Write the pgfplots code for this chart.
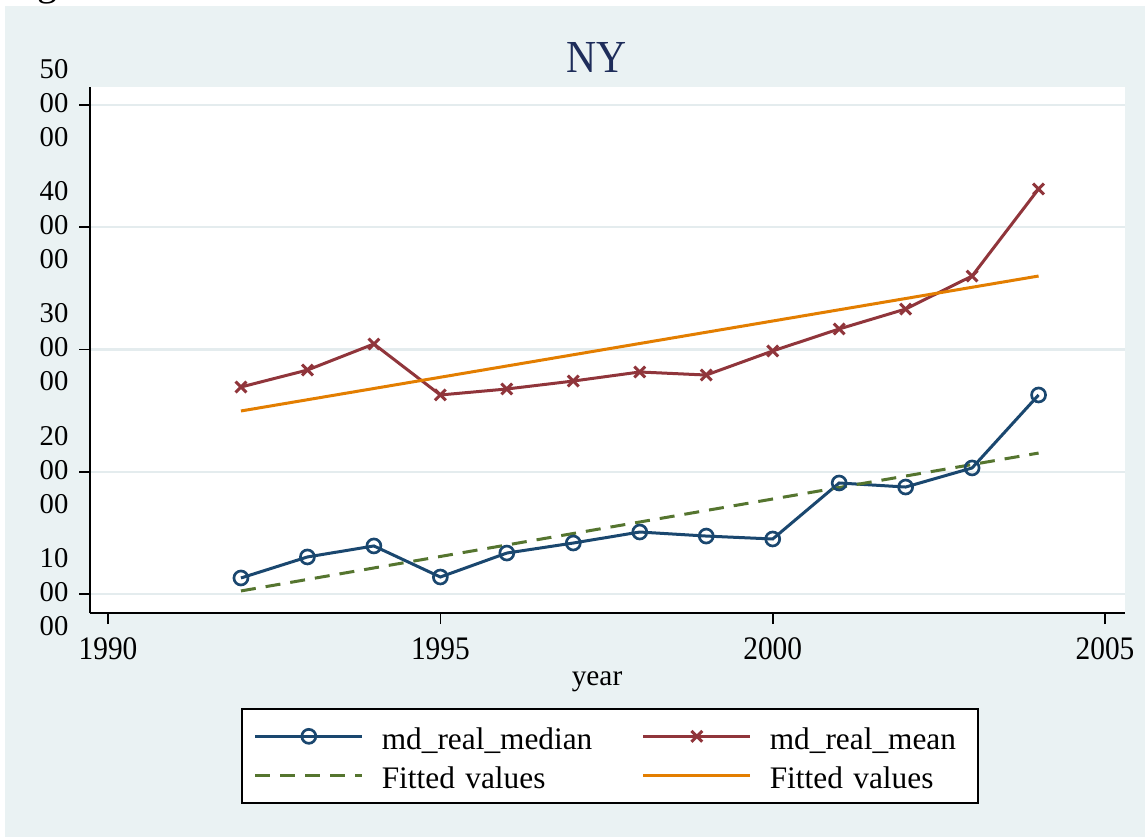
\documentclass[border=0pt]{standalone}
\usepackage{pgfplots}
\pgfplotsset{compat=1.18}
\usepackage{pgfplotstable}
\usepackage{fontspec}
\setmainfont{Liberation Serif}
\definecolor{panel}{HTML}{EAF2F3}
\definecolor{gridc}{HTML}{E4ECEE}
\definecolor{snavy}{RGB}{26,71,111}
\definecolor{smaroon}{RGB}{144,53,59}
\definecolor{sforest}{RGB}{85,117,47}
\definecolor{sorange}{RGB}{227,126,0}
\definecolor{titlec}{RGB}{30,45,90}

\pgfplotstableread{
year median mean
1992 113100 269300
1993 130300 283200
1994 139300 304500
1995 113900 262800
1996 133500 267700
1997 141700 274200
1998 150700 281600
1999 147400 279100
2000 145000 298800
2001 190800 316800
2002 187500 333100
2003 203100 360100
2004 262800 431300
}\datatable

\pgfplotstableread{
year fit
1992 102500
2004 215300
}\fitmedian

\pgfplotstableread{
year fit
1992 249700
2004 360100
}\fitmean

\begin{document}
\begin{tikzpicture}
\fill[white] (0,0) rectangle (343.5pt,-251.4pt);
\fill[panel] (1.5pt,-1.8pt) rectangle (343.5pt,-251.1pt);
\begin{scope}
\clip (0,0) rectangle (343.5pt,-1.8pt);
\node[anchor=base west, inner sep=0pt, font=\fontsize{12}{14}\selectfont] at (0.9pt,1.2pt) {Figure};
\end{scope}
\begin{axis}[
 at={(27pt,-183.9pt)}, anchor=south west,
 scale only axis, width=310.5pt, height=157.8pt,
 xmin=1989.729, xmax=2005.30, ymin=84460, ymax=514720,
 axis x line*=bottom, axis y line*=left,
 axis line style={line width=0.6pt, -},
 axis background/.style={fill=white},
 xtick={1990,1995,2000,2005},
 xticklabels={\scalebox{1}[1.12]{1990},\scalebox{1}[1.12]{1995},\scalebox{1}[1.12]{2000},\scalebox{1}[1.12]{2005}},
 ytick={100000,200000,300000,400000,500000},
 yticklabels={{10\\00\\00},{20\\00\\00},{30\\00\\00},{40\\00\\00},{50\\00\\00}},
 scaled y ticks=false,
 tick align=outside,
 major tick length=3.3pt,
 tick style={black, line width=0.5pt},
 ymajorgrids,
 grid style={gridc, line width=0.7pt},
 xticklabel style={font=\fontsize{8.8}{10}\selectfont, anchor=base, yshift=-10.5pt},
 yticklabel style={font=\fontsize{8.6}{10.2}\selectfont, align=right, anchor=east, inner sep=0pt, xshift=-3pt, yshift=0.6pt},
 title={\scalebox{1}[1.1]{NY}},
 title style={font=\fontsize{12.5}{14}\selectfont, text=titlec, at={(0.5,1)}, anchor=base, yshift=-1.8pt, xshift=-3.15pt},
 xlabel={year},
 xlabel style={font=\fontsize{8.8}{10}\selectfont, at={(axis description cs:0.4899,0)}, anchor=base, yshift=-21.6pt},
 legend columns=2,
 legend image code/.code={\draw[mark repeat=2,mark phase=2] plot coordinates {(0pt,0pt) (16.05pt,0pt) (32.1pt,0pt)};},
 legend cell align=left,
 legend style={at={(0.14589,-0.18061)}, anchor=north west, draw=black, line width=0.5pt, fill=white,
   inner xsep=3.6pt, inner ysep=2.4pt, font=\fontsize{9.4}{11}\selectfont,
   /tikz/every odd column/.append style={column sep=5.4pt},
   /tikz/every even column/.append style={column sep=19.2pt},
   nodes={text height=9.9pt, text depth=1.8pt, inner sep=0pt, text width=58.8pt, align=left}},
]
\addplot[snavy, line width=0.9pt, mark=o, mark size=2.1pt, mark options={line width=0.8pt, fill=white, solid}] table[x=year, y=median] {\datatable};
\addlegendentry{md\_real\_median}
\addplot[smaroon, line width=0.9pt, mark=x, mark size=2.3pt, mark options={line width=0.9pt}] table[x=year, y=mean] {\datatable};
\addlegendentry{md\_real\_mean}
\addplot[sforest, line width=0.9pt, dash pattern=on 4.5pt off 3pt] table[x=year, y=fit] {\fitmedian};
\addlegendentry{Fitted values}
\addplot[sorange, line width=0.9pt] table[x=year, y=fit] {\fitmean};
\addlegendentry{Fitted values}
\end{axis}
\pgfresetboundingbox
\useasboundingbox (0,0) rectangle (343.5pt,-251.4pt);
\end{tikzpicture}
\end{document}
